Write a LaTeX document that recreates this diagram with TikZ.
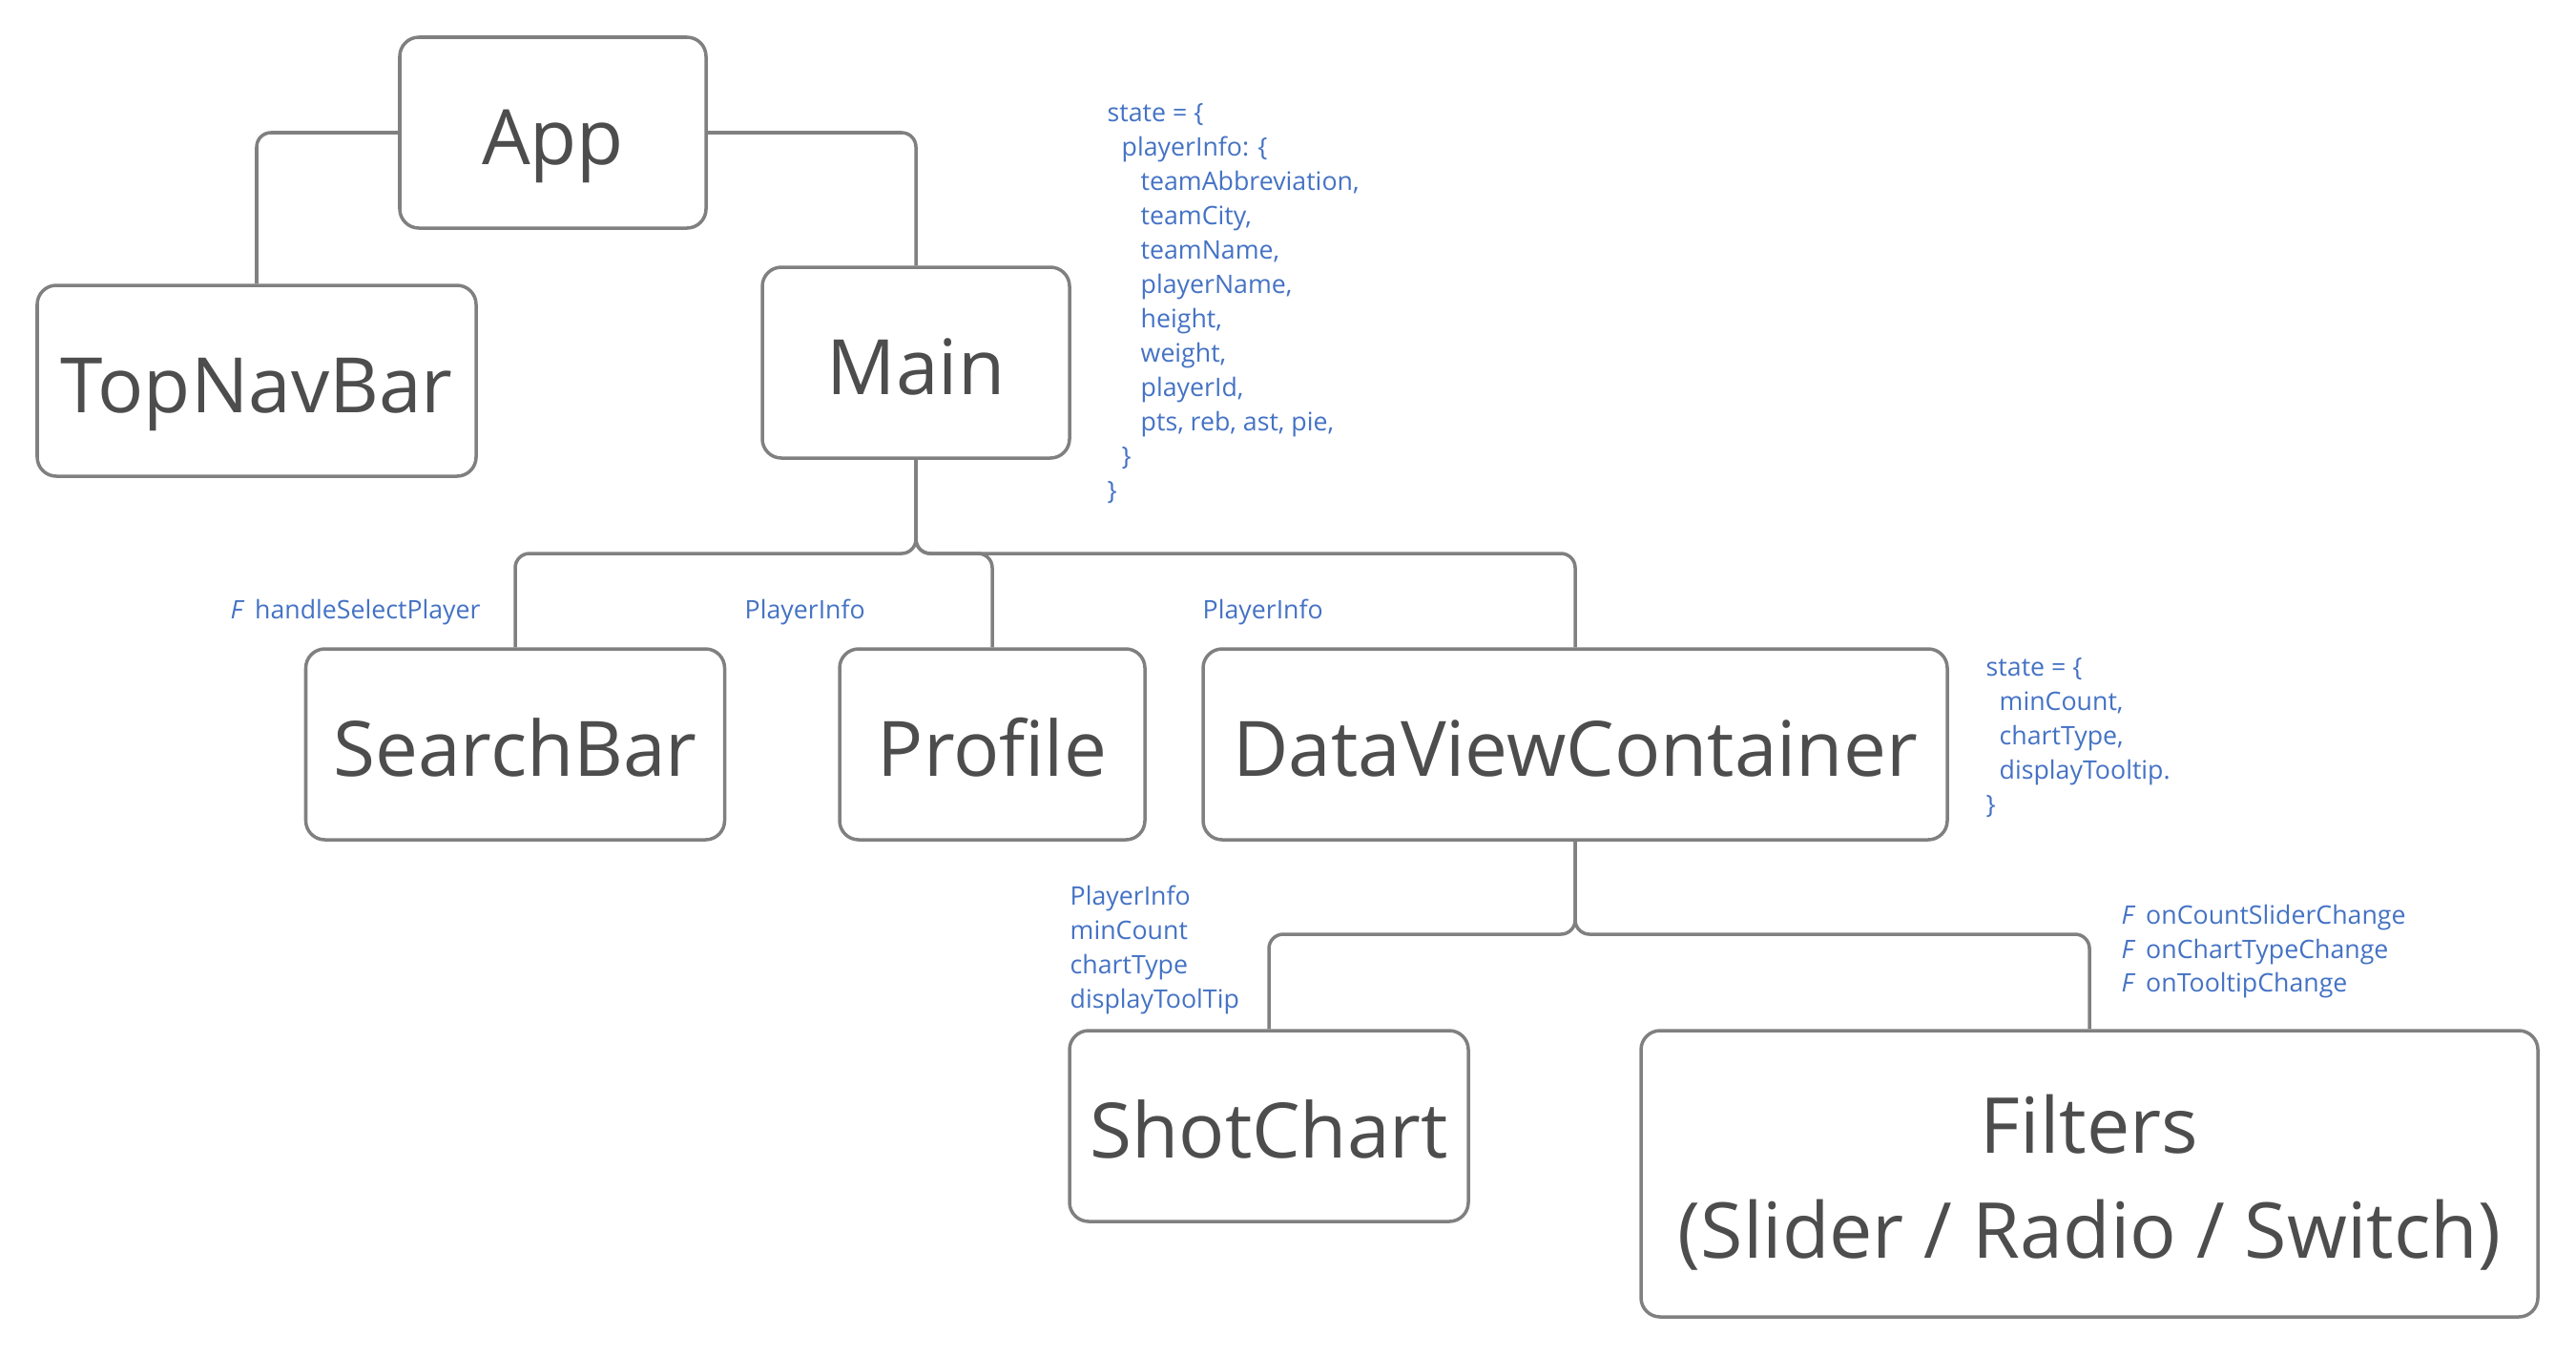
\documentclass[tikz,border=0pt]{standalone}
\usepackage{fontspec}
\setmainfont{Open Sans}
\usepackage{xcolor}
\usepackage{tikz}
\usetikzlibrary{positioning, calc}

\definecolor{boxgray}{HTML}{808080}
\definecolor{textgray}{HTML}{4D4D4D}
\definecolor{propblue}{HTML}{4472C4}

\begin{document}
\begin{tikzpicture}[
    comp/.style={draw=boxgray, line width=1pt, rounded corners=0.2cm, text=textgray,
      font=\fontsize{22.8}{30.7}\selectfont, inner sep=0pt, minimum height=2cm,
      text height=19pt, text depth=0pt, align=center},
    wire/.style={draw=boxgray, line width=1pt, rounded corners=0.15cm},
    prop/.style={text=propblue, font=\fontsize{7.6}{10.24}\selectfont, inner sep=0pt, align=left}
  ]
    \useasboundingbox (0,0) rectangle (27,-14.2);

    % Components
    \node[comp, minimum width=3.21cm] (app) at (5.795,-1.39) {App};
    \node[comp, minimum width=4.6cm] (topnav) at (2.69,-3.99) {TopNavBar};
    \node[comp, minimum width=3.22cm] (main) at (9.6,-3.8) {Main};
    \node[comp, minimum width=4.39cm] (search) at (5.4,-7.8) {SearchBar};
    \node[comp, minimum width=3.2cm] (profile) at (10.4,-7.8) {Profile};
    \node[comp, minimum width=7.8cm] (dvc) at (16.51,-7.8) {DataViewContainer};
    \node[comp, minimum width=4.18cm] (shotchart) at (13.3,-11.8) {ShotChart};
    \node[comp, minimum width=9.4cm, minimum height=3cm, text height={}, text depth={},
      font=\fontsize{23}{31.3}\selectfont] (filters) at (21.9,-12.3)
      {\rule{0pt}{22.5pt}Filters\\(Slider / Radio / Switch)};

    % Tree connectors
    \coordinate (mainfork) at (9.6,-5.8);
    \coordinate (dvcfork) at (16.51,-9.79);
    \draw[wire] (app.west) -| (topnav.north);
    \draw[wire] (app.east) -| (main.north);
    \draw[wire] (main.south) -- (mainfork) -| (search.north);
    \draw[wire] (main.south) -- (mainfork) -| (profile.north);
    \draw[wire] (main.south) -- (mainfork) -| (dvc.north);
    \draw[wire] (dvc.south) -- (dvcfork) -| (shotchart.north);
    \draw[wire] (dvc.south) -- (dvcfork) -| (filters.north);

    % State of Main
    \node[prop, anchor=north west] (mainstate) at (11.6,-1.08) {state = \{\\
      \hspace*{0.15cm}playerInfo: \{\\
      \hspace*{0.35cm}teamAbbreviation,\\
      \hspace*{0.35cm}teamCity,\\
      \hspace*{0.35cm}teamName,\\
      \hspace*{0.35cm}playerName,\\
      \hspace*{0.35cm}height,\\
      \hspace*{0.35cm}weight,\\
      \hspace*{0.35cm}playerId,\\
      \hspace*{0.35cm}pts, reb, ast, pie,\\
      \hspace*{0.15cm}\}\\
      \}};

    % Props passed down from Main
    \node[prop, anchor=base west] (selectprop) at (2.41,-6.48) {\textit{F}\hspace{0.4em}handleSelectPlayer};
    \node[prop, anchor=base west] (profileprop) at (7.8,-6.48) {PlayerInfo};
    \node[prop, anchor=base west] (dvcprop) at (12.6,-6.48) {PlayerInfo};

    % State of DataViewContainer
    \node[prop, anchor=north west] (dvcstate) at (20.81,-6.89) {state = \{\\
      \hspace*{0.14cm}minCount,\\
      \hspace*{0.14cm}chartType,\\
      \hspace*{0.14cm}displayTooltip.\\
      \}};

    % Props passed down from DataViewContainer
    \node[prop, anchor=north west] (shotprops) at (11.21,-9.27) {PlayerInfo\\
      minCount\\
      chartType\\
      displayToolTip};
    \node[prop, anchor=north west] (filterprops) at (22.23,-9.47) {\textit{F}\hspace{0.4em}onCountSliderChange\\
      \textit{F}\hspace{0.4em}onChartTypeChange\\
      \textit{F}\hspace{0.4em}onTooltipChange};
\end{tikzpicture}
\end{document}
